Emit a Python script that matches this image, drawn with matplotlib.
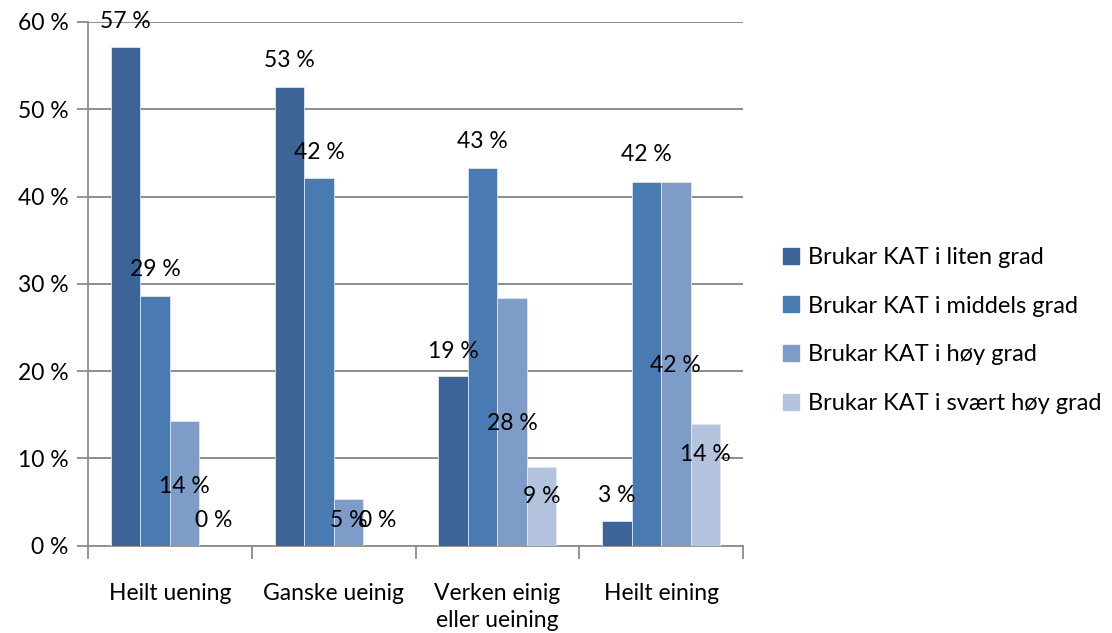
import matplotlib
matplotlib.use("Agg")
import matplotlib.pyplot as plt
from matplotlib.lines import Line2D
import numpy as np

categories = ["Heilt uening", "Ganske ueinig", "Verken einig\neller ueining", "Heilt eining"]
series_names = ["Brukar KAT i liten grad", "Brukar KAT i middels grad",
                "Brukar KAT i høy grad", "Brukar KAT i svært høy grad"]
liten = [57.1, 52.6, 19.4, 2.8]
middels = [28.6, 42.1, 43.3, 41.7]
hoy = [14.3, 5.3, 28.4, 41.7]
svaert_hoy = [0.0, 0.0, 9.0, 13.9]
label_text = [["57 %", "53 %", "19 %", "3 %"],
              ["29 %", "42 %", "43 %", "42 %"],
              ["14 %", "5 %", "28 %", "42 %"],
              ["0 %", "0 %", "9 %", "14 %"]]
# label vertical placement (data units), as in the reference
label_y = [[60.0, 55.6, 22.3, 5.7],
           [31.6, 45.1, 46.3, 44.8],
           [6.8, 2.9, 14.0, 20.7],
           [2.9, 2.9, 5.6, 10.5]]

colors = ["#3c6496", "#4a7ab2", "#7e9cc8", "#b4c3de"]
values = [liten, middels, hoy, svaert_hoy]

plt.rcParams['font.family'] = ['Lato', 'DejaVu Sans']
FS = 16.5

fig = plt.figure(figsize=(11.12, 6.33), dpi=100)
ax = fig.add_axes([88/1112, 1-545.7/633, (743-88)/1112, (545.7-22)/633])

n = len(categories)
x = np.arange(n)
w = 0.18
offsets = (np.arange(4) - 1.5) * w
for i in range(4):
    ax.bar(x + offsets[i], values[i], width=w, color=colors[i],
           edgecolor="#dfe6f0", linewidth=0.6, zorder=3, label=series_names[i])
    for j in range(n):
        ax.text(x[j] + offsets[i], label_y[i][j], label_text[i][j],
                ha="center", va="center", fontsize=FS, color="black", zorder=5)

ax.set_xlim(-0.5, n - 0.5)
ax.set_ylim(0, 60)
ax.set_yticks(np.arange(0, 61, 10))
ax.set_yticklabels([f"{v} %" for v in range(0, 61, 10)], fontsize=FS)
ax.yaxis.grid(True, color="#8c8c8c", linewidth=1.4, zorder=0)
ax.set_axisbelow(True)

ax.set_xticks(np.arange(-0.5, n, 1.0))
ax.set_xticklabels([])
ax.set_xticks(x, minor=True)
ax.set_xticklabels(categories, minor=True, fontsize=FS, linespacing=1.35)
ax.tick_params(axis="x", which="minor", length=0, pad=27)
ax.tick_params(axis="x", which="major", length=9, width=1.3, color="#8c8c8c", direction="out")
ax.tick_params(axis="y", length=8, width=1.3, color="#8c8c8c", direction="out", pad=6)

for s in ["top", "right"]:
    ax.spines[s].set_visible(False)
for s in ["left", "bottom"]:
    ax.spines[s].set_color("#8c8c8c")
    ax.spines[s].set_linewidth(1.3)

handles = [Line2D([0], [0], marker="s", linestyle="none", markersize=11,
                  markerfacecolor=c, markeredgecolor=c) for c in colors]
fig.legend(handles, series_names, loc="center left",
           bbox_to_anchor=(770/1112, 1-330.5/633), frameon=False, fontsize=17,
           handlelength=0.8, handletextpad=0.3, labelspacing=1.17, borderpad=0)

fig.savefig("out.png", dpi=100)
